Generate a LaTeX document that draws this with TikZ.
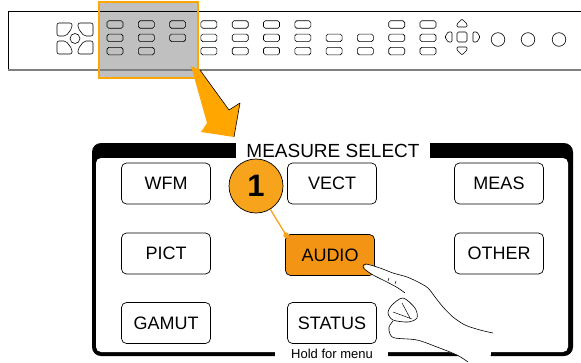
\documentclass[tikz,border=0pt]{standalone}
\usepackage{fontspec}
\setmainfont{Liberation Sans}
\usepackage{tikz}
\usetikzlibrary{positioning}
\usepackage{xcolor}
\definecolor{hiorange}{HTML}{FFA600}
\definecolor{callorange}{HTML}{F7A31C}
\definecolor{audioorange}{HTML}{F39414}
\definecolor{selgray}{HTML}{C0C0C0}

\begin{document}
\begin{tikzpicture}[x=1pt,y=-1pt,
  key/.style={draw, rounded corners=1.8pt, line width=.6pt, minimum width=16pt, minimum height=7.5pt, inner sep=0pt},
  bigkey/.style={draw, fill=white, rounded corners=5pt, line width=.7pt, minimum width=89pt, minimum height=41pt, inner sep=0pt, font=\fontsize{18}{18}\selectfont}]
\useasboundingbox (0,0) rectangle (581,362);
% front panel strip
\fill[selgray] (99,2) rectangle (198,78);
\draw[line width=.8pt] (585,11)--(8,11)--(8,70);
\draw[gray, line width=1.3pt] (8,70)--(585,70);
% navigation cluster at the left
\draw[line width=.6pt, rounded corners=2pt] (57,23)--(72,23)--(72,28)--(66,36)--(57,36)--cycle;
\draw[line width=.6pt, rounded corners=2pt] (93,23)--(78,23)--(78,28)--(84,36)--(93,36)--cycle;
\draw[line width=.6pt, rounded corners=2pt] (57,54)--(72,54)--(72,49)--(66,41)--(57,41)--cycle;
\draw[line width=.6pt, rounded corners=2pt] (93,54)--(78,54)--(78,49)--(84,41)--(93,41)--cycle;
\draw[line width=.6pt] (75,38.5) circle(5pt);
% rows of small keys
\foreach \c/\rows in {0/{1,2,3},1/{1,2,3},2/{1,2},3/{1,2,3},4/{1,2,3},5/{1,2,3},6/{1,2,3},7/{2,3},8/{2,3},9/{1,2,3},10/{1,2,3}}
  \foreach \r in \rows
    \node[key] (k-\c-\r) at ({115+31.3*\c},{24.5+13.3*(\r-1)}) {};
% arrow pad
\draw[line width=.6pt, rounded corners=1pt] (457,27)--(457,24)--(462,19)--(467,24)--(467,27)--cycle;
\draw[line width=.6pt, rounded corners=1pt] (457,47)--(467,47)--(467,50)--(462,55)--(457,50)--cycle;
\draw[line width=.6pt, rounded corners=1pt] (452,32)--(448,32)--(445,37)--(448,42)--(452,42)--cycle;
\draw[line width=.6pt, rounded corners=1pt] (473,32)--(477,32)--(480,37)--(477,42)--(473,42)--cycle;
\draw[line width=.6pt, rounded corners=1.5pt] (457,32) rectangle (467,42);
\foreach \x in {498,528,559}
  \draw[line width=.6pt] (\x,39.5) circle(6.8pt);
\draw[hiorange, line width=2.5pt] (99,2) rectangle (198,78);
% big arrow down to the menu
\fill[hiorange] (191,66)--(200,70)--(229,110)--(240,103)--(234,137)--(201,132)--(207,123)--cycle;
\draw[line width=.6pt, line join=round] (200,70)--(229,110)--(240,103)--(234,137);
% menu frame
\fill[black, rounded corners=9pt] (92,143) rectangle (573,356);
\fill[white, rounded corners=5pt] (96,158) rectangle (568,352);
\fill[white] (236,140) rectangle (430,161);
\fill[white] (275,348) rectangle (388,360);
\node[inner sep=0pt, font=\fontsize{19}{19}\selectfont] (title) at (333,151) {MEASURE SELECT};
\node[inner sep=0pt, font=\fontsize{13}{13}\selectfont] (hold) at (332,354) {Hold for menu};
% menu keys
\node[bigkey] (wfm) at (166,183.5) {WFM};
\node[bigkey] (vect) at (332,183.5) {VECT};
\node[bigkey] (meas) at (499,183.5) {MEAS};
\node[bigkey] (pict) at (166,253.5) {PICT};
\node[bigkey, fill=audioorange] (audio) at (330,255) {AUDIO};
\node[bigkey] (other) at (499,253.5) {OTHER};
\node[bigkey] (gamut) at (166,323) {GAMUT};
\node[bigkey] (status) at (332,323) {STATUS};
% callout
\node[circle, draw, line width=.7pt, fill=callorange, minimum size=54pt, inner sep=0pt, font=\fontsize{31}{31}\selectfont\bfseries] (one) at (256,186) {1};
\coordinate (dot) at ([xshift=1pt,yshift=-1pt]audio.north west);
\draw[callorange, line width=1.3pt] (one)--(dot);
\fill[callorange] (dot) circle(2.8pt);
% pointing hand
\fill[white] (364,266)--(368,264)--(380,268)--(393,273)--(407,277)--(418,282)--(428,288)--(435,297)--(443,307)--(453,317)--(465,325)--(480,330)--(493,333)--(490,362)--(468,362)--(457,355)--(437,347)--(417,340)--(395,338)--(389,333)--(390,325)--(388,313)--(392,305)--(403,298)--(405,293)--(398,288)--(387,282)--(373,275)--(365,269)--cycle;
\draw[line width=.6pt] plot[smooth] coordinates {(405,293) (398,288) (387,282) (373,275) (365,269.5) (363,266.5) (366,264) (380,268) (393,273) (407,277) (418,282) (428,288) (435,297) (443,307) (453,317) (465,325) (480,330) (493,333)};
\draw[line width=.6pt] plot[smooth cycle] coordinates {(403,298) (392,305) (388,313) (393,320) (408,322) (417,318) (415,308)};
\draw[line width=.5pt] (393,312)--(412,319) (402,303)--(410,318);
\draw[line width=.6pt] plot[smooth] coordinates {(393,321) (389,327) (390,334) (395,338) (417,340) (437,347) (457,355) (468,362)};
\draw[line width=.5pt] (388,281)--(389,278) (395,284)--(396,281);
\end{tikzpicture}
\end{document}
